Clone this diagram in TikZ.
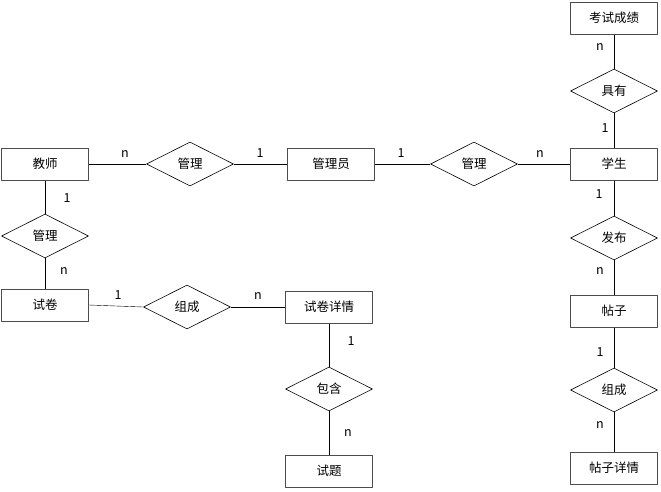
\documentclass[tikz,border=0pt]{standalone}
\usepackage{fontspec}
\newfontfamily\cjk{Noto Sans CJK SC}
\usetikzlibrary{positioning,shapes.geometric}

\begin{document}
\begin{tikzpicture}[x=1pt,y=-1pt,line join=bevel,
  every node/.style={font=\cjk\fontsize{12.5}{14}\selectfont},
  entity/.style={draw=black!70,line width=1pt,minimum width=87pt,minimum height=32pt,inner sep=0pt},
  relation/.style={diamond,draw,line width=0.6pt,minimum width=87pt,minimum height=44pt,inner sep=0pt},
  card/.style={inner sep=0pt,font=\cjk\fontsize{12.5}{14}\selectfont}]
%%
  \useasboundingbox (0,0) rectangle (661,491);

  \node (node_teacher) at (45,164) [entity] {教师};
  \node (node_rel_0) at (190,164) [relation] {管理};
  \node (node_admin) at (331,164) [entity] {管理员};
  \node (node_rel_1) at (474,164) [relation] {管理};
  \node (node_student) at (614,164) [entity] {学生};

  \node (node_score) at (614,18) [entity] {考试成绩};
  \node (node_rel_2) at (614,91) [relation] {具有};

  \node (node_rel_3) at (614,238) [relation] {发布};
  \node (node_post) at (614,311) [entity] {帖子};
  \node (node_rel_4) at (614,390) [relation] {组成};
  \node (node_postdetail) at (614,468) [entity] {帖子详情};

  \node (node_rel_5) at (45,236) [relation] {管理};
  \node (node_paper) at (45,305) [entity] {试卷};
  \node (node_rel_6) at (187,307) [relation] {组成};
  \node (node_paperdetail) at (329,307) [entity] {试卷详情};
  \node (node_rel_7) at (329,389) [relation] {包含};
  \node (node_question) at (329,471) [entity] {试题};

  \draw [black] (node_teacher) -- (node_rel_0);
  \draw [black] (node_rel_0) -- (node_admin);
  \draw [black] (node_admin) -- (node_rel_1);
  \draw [black] (node_rel_1) -- (node_student);
  \draw [black] (node_score) -- (node_rel_2);
  \draw [black] (node_rel_2) -- (node_student);
  \draw [black] (node_student) -- (node_rel_3);
  \draw [black] (node_rel_3) -- (node_post);
  \draw [black] (node_post) -- (node_rel_4);
  \draw [black] (node_rel_4) -- (node_postdetail);
  \draw [black] (node_teacher) -- (node_rel_5);
  \draw [black] (node_rel_5) -- (node_paper);
  \draw [black] (node_paper.east) -- (node_rel_6.west);
  \draw [black] (node_rel_6) -- (node_paperdetail);
  \draw [black] (node_paperdetail) -- (node_rel_7);
  \draw [black] (node_rel_7) -- (node_question);
%
  \node (card_0) at (125,154) [card] {n};
  \node (card_1) at (260,153) [card] {1};
  \node (card_2) at (401,153) [card] {1};
  \node (card_3) at (540,154) [card] {n};
  \node (card_4) at (600,47) [card] {n};
  \node (card_5) at (605,128) [card] {1};
  \node (card_6) at (599,194) [card] {1};
  \node (card_7) at (600,271) [card] {n};
  \node (card_8) at (600,352) [card] {1};
  \node (card_9) at (600,425) [card] {n};
  \node (card_10) at (67,198) [card] {1};
  \node (card_11) at (64,271) [card] {n};
  \node (card_12) at (118,295) [card] {1};
  \node (card_13) at (258,296) [card] {n};
  \node (card_14) at (351,341) [card] {1};
  \node (card_15) at (348,433) [card] {n};
%
\end{tikzpicture}
\end{document}
